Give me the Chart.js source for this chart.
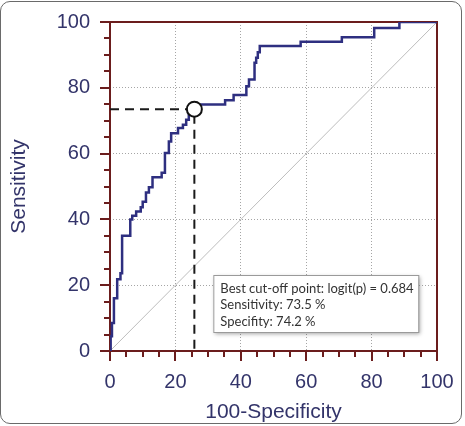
<!DOCTYPE html>
<html>
<head>
<meta charset="utf-8">
<script src="https://cdn.jsdelivr.net/npm/chart.js@4.4.1/dist/chart.umd.min.js"></script>
<style>
  body { margin: 0; background: #fff; }
  #wrap { position: relative; width: 465px; height: 426px; }
  #frame { position: absolute; left: 0; top: 1px; width: 462px; height: 423px; border: 1.5px solid #6a6a6a; border-radius: 10px; box-sizing: border-box; }
  canvas { position: absolute; left: 0; top: 0; }
</style>
</head>
<body>
<div id="wrap">
  <div id="frame"></div>
  <canvas id="roc" width="465" height="426"></canvas>
</div>
<script>
// ROC curve points (100-Specificity, Sensitivity)
const fpr = [0, 0.2, 0.6, 1.2, 2.2, 3.2, 3.7, 6.2, 6.8, 8.0, 9.4, 10.0, 11.0, 11.9, 13.0, 15.8, 16.8, 18.0, 18.7,
  20.8, 22.3, 23.3, 24.1, 24.9, 26.5, 35.2, 37.8, 41.7, 42.5, 44.2, 44.7, 45.2, 45.8, 58.3, 70.9, 80.8, 88.5, 100];
const tpr = [0, 4.5, 8.5, 16.0, 21.8, 23.6, 35.0, 40.0, 41.1, 42.4, 43.7, 45.4, 48.2, 49.8, 52.8, 54.2, 60.2, 63.7, 66.2,
  67.8, 68.8, 70.3, 71.8, 73.5, 74.9, 76.2, 77.8, 80.5, 82.5, 87.6, 89.1, 90.8, 92.7, 94.0, 95.4, 98.2, 100, 100];

// best cut-off point
const cutSpec = 74.2;
const cutSens = 73.5;
const cutLabel = 'Best cut-off point: logit(p) = 0.684';

const axisMin = 0;
const axisMax = 100;
const majorStep = 20;
const minorStep = 5;

const navy = '#33346a';
const maroon = '#6b1d1d';

const rocPoints = fpr.map((v, i) => ({ x: v, y: tpr[i] }));
const cutX = 100 - cutSpec;
const boxLines = [cutLabel, 'Sensitivity: ' + cutSens + ' %', 'Specifity: ' + cutSpec + ' %'];

// axis frame, tick marks and the info box
const decor = {
  id: 'decor',
  beforeDatasetsDraw(chart) {
    const { ctx, chartArea: a, scales: { x, y } } = chart;
    ctx.save();
    ctx.strokeStyle = maroon;
    ctx.lineWidth = 2;
    for (let v = axisMin; v <= axisMax; v += minorStep) {
      const len = v % majorStep === 0 ? 10 : 6;
      const px = Math.round(x.getPixelForValue(v));
      ctx.beginPath();
      ctx.moveTo(px, a.bottom);
      ctx.lineTo(px, a.bottom + len);
      ctx.stroke();
      const py = Math.round(y.getPixelForValue(v));
      ctx.beginPath();
      ctx.moveTo(a.left, py);
      ctx.lineTo(a.left - len, py);
      ctx.stroke();
    }
    ctx.strokeRect(a.left, a.top, a.right - a.left, a.bottom - a.top);
    ctx.restore();
  },
  afterDatasetsDraw(chart) {
    const { ctx, scales: { x, y } } = chart;
    const left = x.getPixelForValue(31.6);
    const top = y.getPixelForValue(23.1);
    const w = 205, h = 57;
    ctx.save();
    ctx.shadowColor = 'rgba(0,0,0,0.35)';
    ctx.shadowBlur = 4;
    ctx.shadowOffsetX = 2;
    ctx.shadowOffsetY = 2;
    ctx.fillStyle = '#fff';
    ctx.fillRect(left, top, w, h);
    ctx.restore();
    ctx.save();
    ctx.strokeStyle = '#9a9a9a';
    ctx.lineWidth = 1;
    ctx.strokeRect(left + 0.5, top + 0.5, w, h);
    ctx.fillStyle = '#333';
    ctx.font = '13px Lato';
    ctx.textBaseline = 'alphabetic';
    boxLines.forEach((t, i) => ctx.fillText(t, left + 7, top + 17.5 + i * 16.5));
    ctx.restore();
  }
};

const tickFont = { family: "'Liberation Sans', Arial, sans-serif", size: 20 };
const titleFont = { family: "'Liberation Sans', Arial, sans-serif", size: 21 };
const gridColor = c => (c.tick && c.tick.value > axisMin && c.tick.value < axisMax) ? '#a5a5a5' : 'transparent';

new Chart(document.getElementById('roc'), {
  type: 'line',
  data: {
    datasets: [
      {
        data: [{ x: cutX, y: cutSens }],
        showLine: false,
        pointRadius: 7.5,
        pointBackgroundColor: '#fff',
        pointBorderColor: '#111',
        pointBorderWidth: 2,
        order: 0
      },
      {
        data: rocPoints,
        stepped: 'before',
        borderColor: '#2e2f80',
        borderWidth: 2.5,
        pointRadius: 0,
        fill: false,
        order: 1
      },
      {
        data: [{ x: axisMin, y: cutSens }, { x: cutX, y: cutSens }, { x: cutX, y: axisMin }],
        borderColor: '#1a1a1a',
        borderWidth: 2,
        borderDash: [9, 6],
        pointRadius: 0,
        fill: false,
        order: 2
      },
      {
        data: [{ x: axisMin, y: axisMin }, { x: axisMax, y: axisMax }],
        borderColor: '#bdbdbd',
        borderWidth: 1,
        pointRadius: 0,
        fill: false,
        order: 3
      }
    ]
  },
  options: {
    responsive: false,
    animation: false,
    layout: { padding: { top: 22, right: 28, left: 0, bottom: 0 } },
    plugins: { legend: { display: false }, tooltip: { enabled: false } },
    scales: {
      x: {
        type: 'linear',
        min: axisMin,
        max: axisMax,
        afterFit: s => { s.height = 75; },
        ticks: { stepSize: majorStep, color: navy, font: tickFont, padding: 7, maxRotation: 0 },
        grid: { color: gridColor, lineWidth: 1, drawTicks: true, tickLength: 12, tickColor: 'transparent' },
        border: { display: false, dash: [1, 2] },
        title: { display: true, text: '100-Specificity', color: navy, font: titleFont, padding: { top: 0, bottom: 1 } }
      },
      y: {
        type: 'linear',
        min: axisMin,
        max: axisMax,
        afterFit: s => { s.width = 110; },
        ticks: { stepSize: majorStep, color: navy, font: tickFont, padding: 8 },
        grid: { color: gridColor, lineWidth: 1, drawTicks: true, tickLength: 12, tickColor: 'transparent' },
        border: { display: false, dash: [1, 2] },
        title: { display: true, text: 'Sensitivity', color: navy, font: titleFont, padding: { top: 7, bottom: 0 } }
      }
    }
  },
  plugins: [decor]
});
</script>
</body>
</html>
